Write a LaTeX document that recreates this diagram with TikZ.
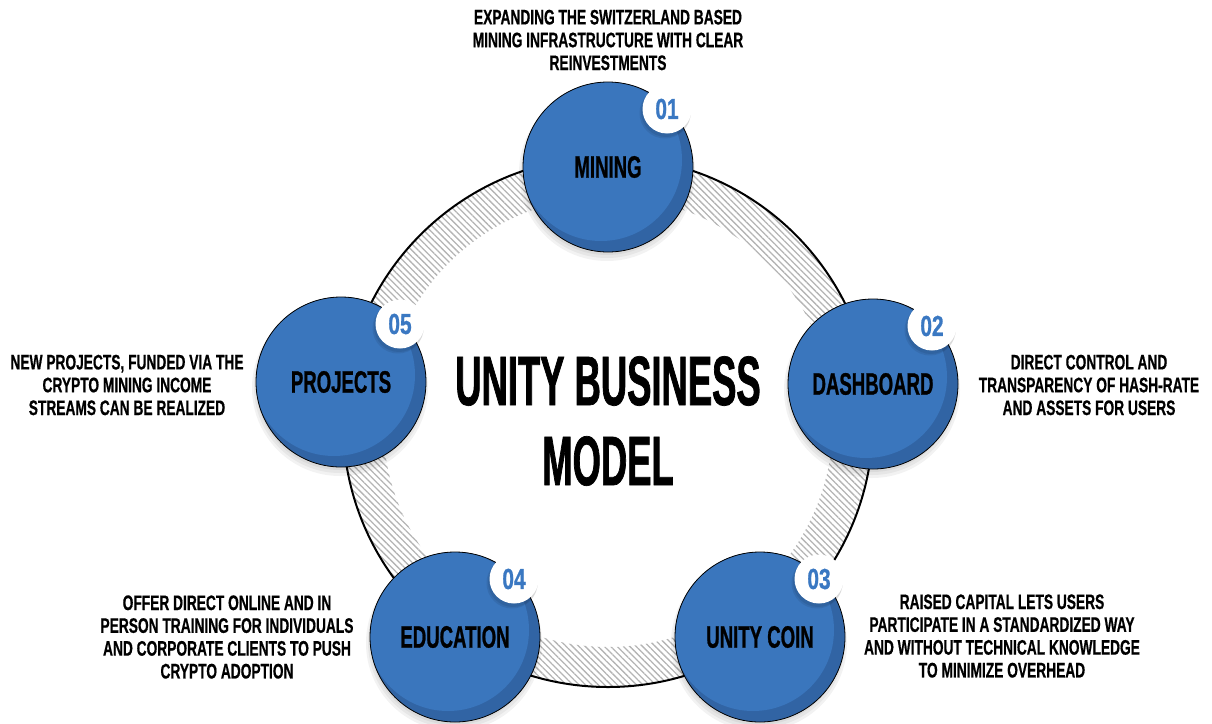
\documentclass[tikz,border=0pt]{standalone}
\usepackage{fontspec}
\usetikzlibrary{patterns.meta,calc}
\newfontfamily\fdesc{Liberation Sans}[FakeStretch=0.655,FakeBold=0.6]
\newfontfamily\ftitle{Liberation Sans}[FakeStretch=0.52,FakeBold=1]
\newfontfamily\flabel{Liberation Sans}[FakeStretch=0.6,FakeBold=0.8]
\newfontfamily\fnum{Liberation Sans}[FakeStretch=0.72,FakeBold=0.8]
\definecolor{balllight}{HTML}{3A76BD}
\definecolor{balldark}{HTML}{3164A4}
\definecolor{numblue}{HTML}{3A78C2}
\definecolor{hatch}{HTML}{B4B4B4}
\tikzset{
  desc/.style={font=\fdesc\bfseries\fontsize{21}{22.8}\selectfont, align=center, text=black, inner sep=0pt},
  ball/.style={circle, minimum size=170pt, inner sep=0pt, draw=black, line width=0.8pt, fill=balldark,
    path picture={\fill[balllight] ([xshift=-7pt,yshift=7pt]path picture bounding box.center) circle (81pt);},
    font=\flabel\bfseries\fontsize{31}{31}\selectfont, text=black},
  badge/.style={circle, fill=white, minimum size=49pt, inner sep=0pt, text=numblue,
    font=\fnum\bfseries\fontsize{29}{29}\selectfont},
  ballshadow/.style={fill=black, opacity=0.05},
  badgeshadow/.style={fill=black, opacity=0.08},
}
\begin{document}
\begin{tikzpicture}[x=1pt,y=-1pt]
\useasboundingbox (0,0) rectangle (1212,723);
% ring
\coordinate (rc) at (608,422);
\fill[pattern={Lines[angle=-45,distance=4.5pt,line width=1.3pt]}, pattern color=hatch, even odd rule]
  (rc) circle (265pt) (rc) circle (225pt);
\draw[line width=2pt] (rc) circle (265pt);
% ball positions
\coordinate (p1) at (608,167);
\coordinate (p2) at (873,384);
\coordinate (p3) at (760,637);
\coordinate (p4) at (455,637);
\coordinate (p5) at (341,382);
% shadows
\foreach \p in {p1,p2,p3,p4,p5}{
  \foreach \r/\d in {88/6,86/5,84/4}{
    \fill[ballshadow] ($(\p)+(-1,\d)$) circle (\r pt);
  }
}
% balls
\node[ball] (mining) at (p1) {MINING};
\node[ball] (dashboard) at (p2) {DASHBOARD};
\node[ball] (coin) at (p3) {UNITY COIN};
\node[ball] (education) at (p4) {EDUCATION};
\node[ball] (projects) at (p5) {PROJECTS};
% badges
\foreach \p/\n/\t in {p1/b1/01,p2/b2/02,p3/b3/03,p4/b4/04,p5/b5/05}{
  \fill[badgeshadow] ($(\p)+(57,-54)$) circle (25.5pt);
  \fill[badgeshadow] ($(\p)+(58,-55)$) circle (25pt);
  \node[badge] (\n) at ($(\p)+(59,-58)$) {\t};
}
% title
\node[font=\ftitle\bfseries\fontsize{70}{80}\selectfont, align=center, inner sep=0pt] (title) at (608,421)
  {UNITY BUSINESS\\MODEL};
% descriptions
\node[desc] (d1) at (608,40) {EXPANDING THE SWITZERLAND BASED\\MINING INFRASTRUCTURE WITH CLEAR\\REINVESTMENTS};
\node[desc] (d2) at (1089,385) {DIRECT CONTROL AND\\TRANSPARENCY OF HASH-RATE\\AND ASSETS FOR USERS};
\node[desc] (d3) at (1002,636) {RAISED CAPITAL LETS USERS\\PARTICIPATE IN A STANDARDIZED WAY\\AND WITHOUT TECHNICAL KNOWLEDGE\\TO MINIMIZE OVERHEAD};
\node[desc] (d4) at (227,637) {OFFER DIRECT ONLINE AND IN\\PERSON TRAINING FOR INDIVIDUALS\\AND CORPORATE CLIENTS TO PUSH\\CRYPTO ADOPTION};
\node[desc] (d5) at (127,385) {NEW PROJECTS, FUNDED VIA THE\\CRYPTO MINING INCOME\\STREAMS CAN BE REALIZED};
\end{tikzpicture}
\end{document}
